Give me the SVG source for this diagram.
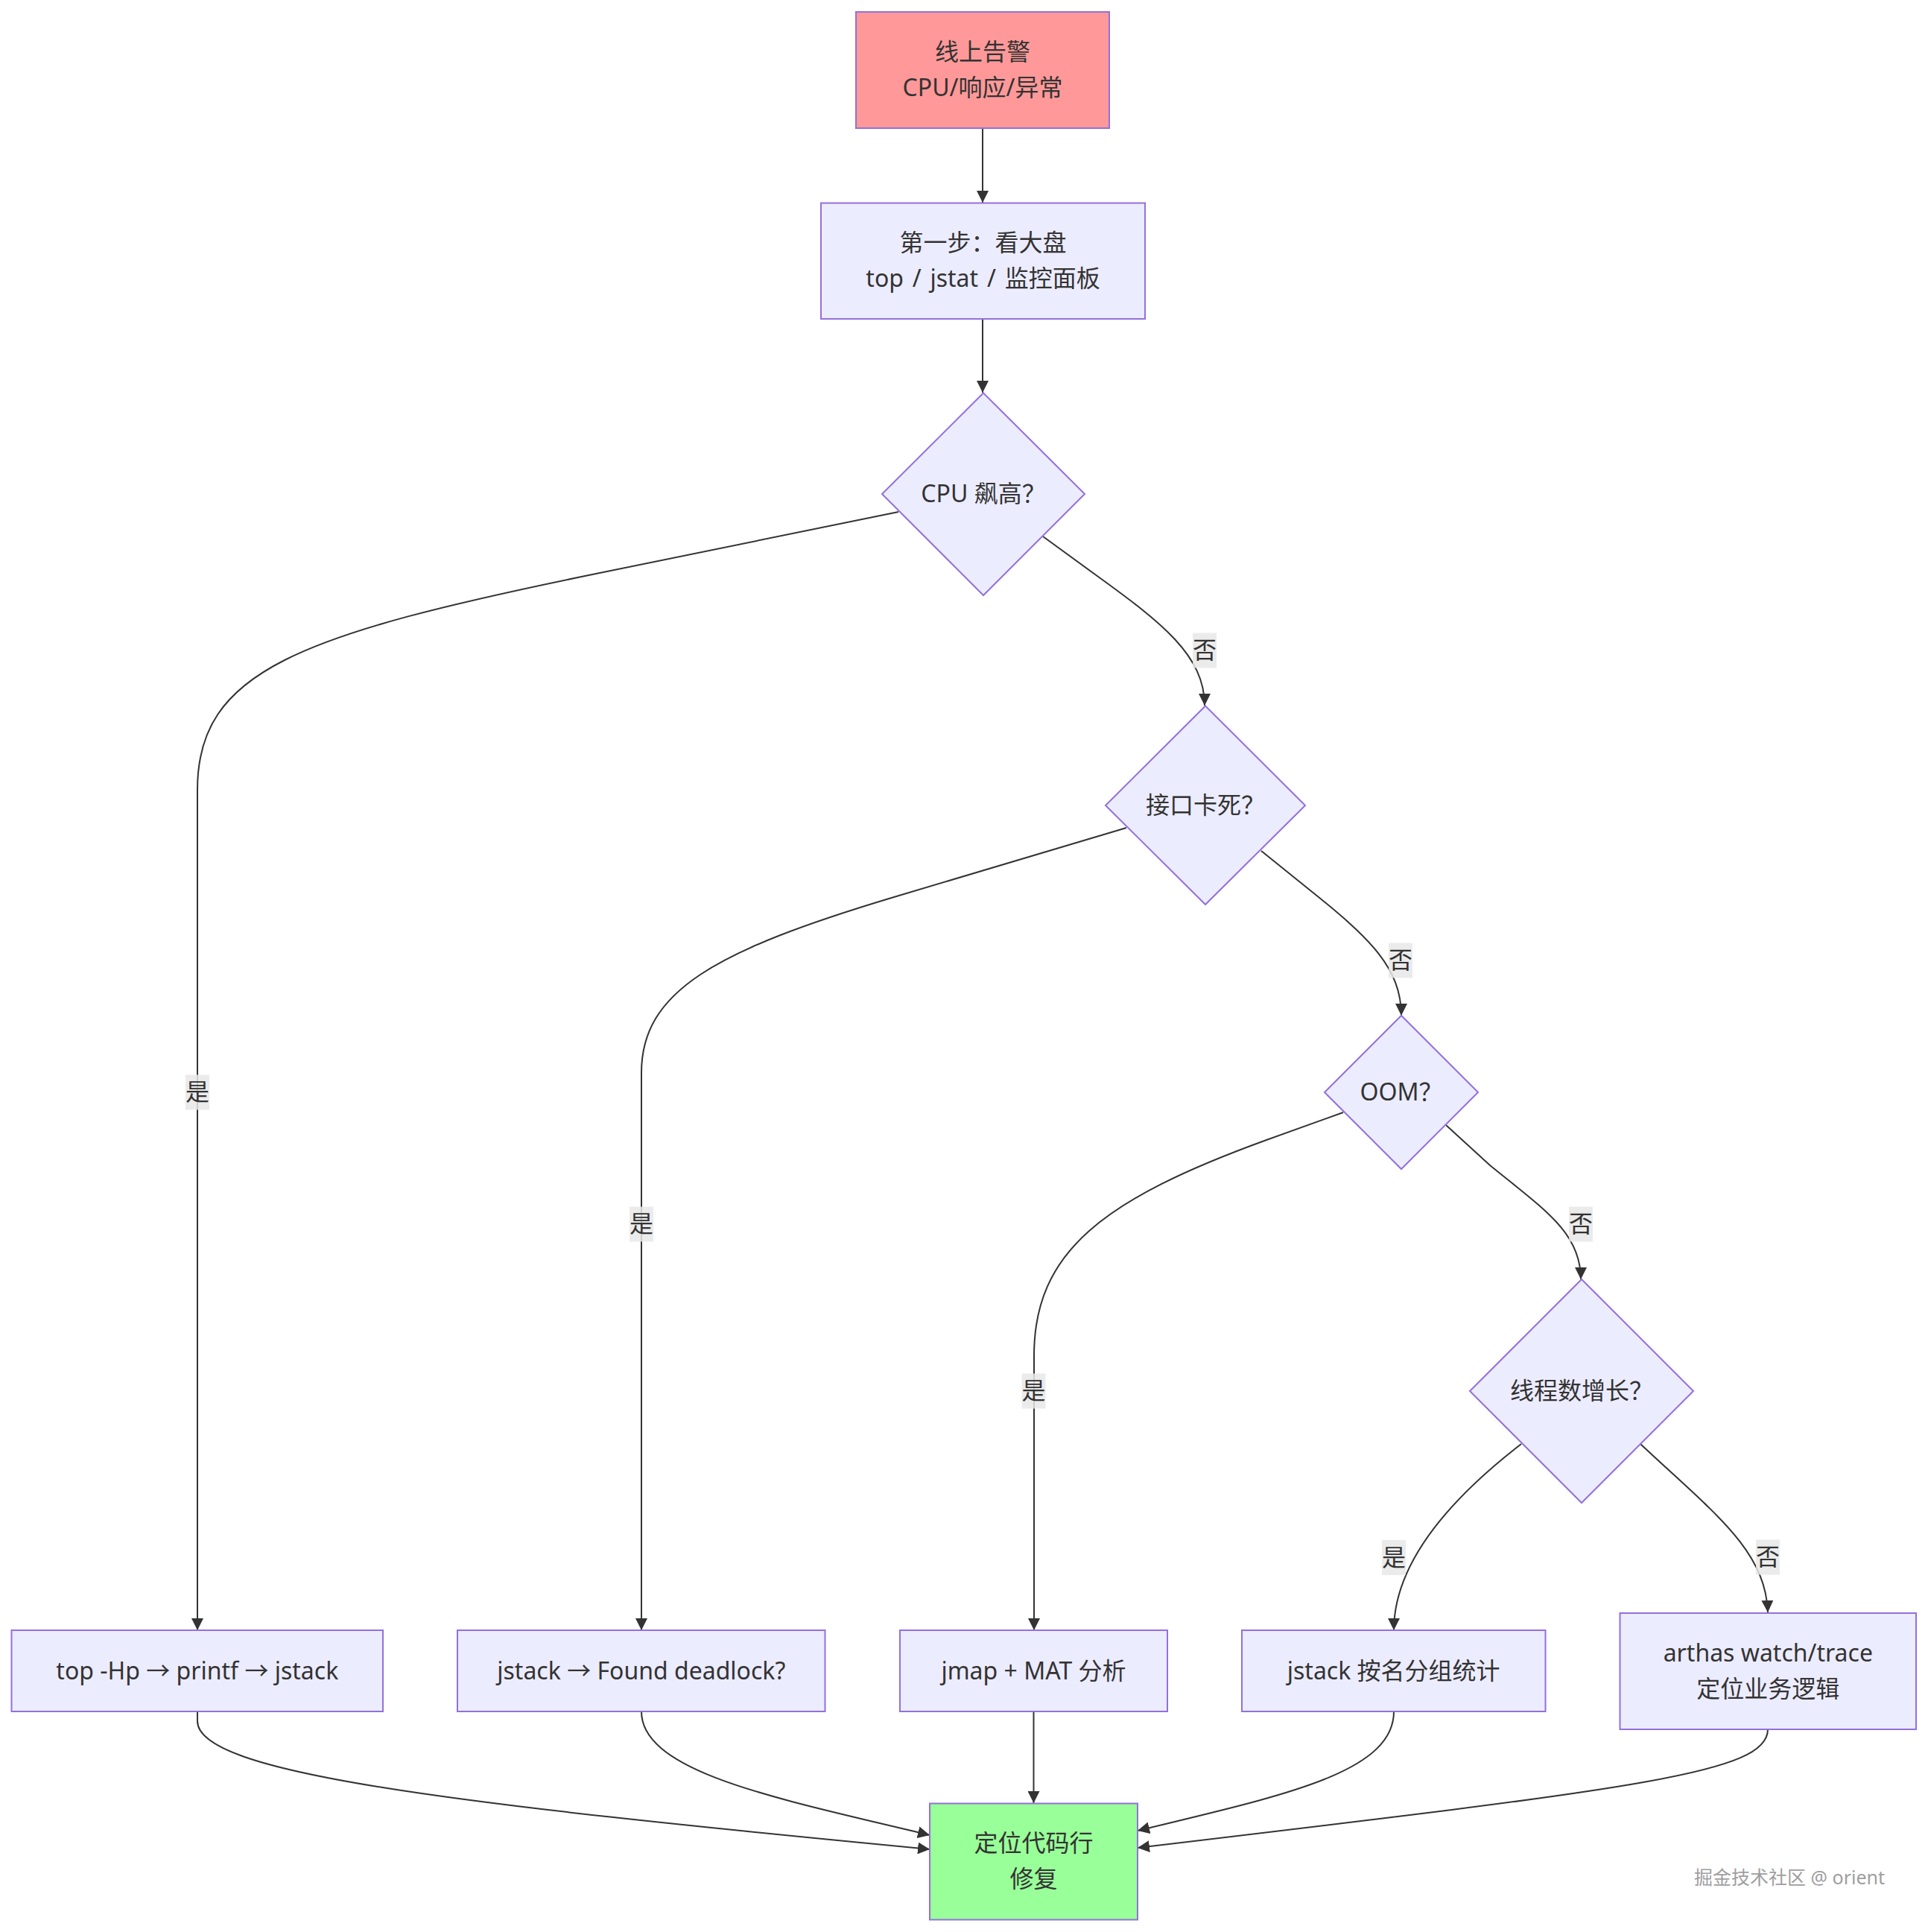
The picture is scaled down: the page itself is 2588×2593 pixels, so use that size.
<svg xmlns="http://www.w3.org/2000/svg" width="2588" height="2593" viewBox="0 0 2588 2593">
<style>
  .node { fill: #ECECFF; stroke: #9370DB; stroke-width: 2; }
  .start { fill: #FF9999; stroke: #9370DB; stroke-width: 2; }
  .end { fill: #99FF99; stroke: #9370DB; stroke-width: 2; }
  .lbl { font-family: "Noto Sans", "Noto Sans CJK SC", sans-serif; font-size: 32px; fill: #333333; text-anchor: middle; }
  .edge { fill: none; stroke: #333333; stroke-width: 2; }
  .elbg { fill: #E8E8E8; opacity: 0.85; }
  .wm { font-family: "Noto Sans", "Noto Sans CJK SC", sans-serif; font-size: 25px; fill: #9E9E9E; text-anchor: end; }
</style>
<defs>
  <marker id="arrow" markerUnits="userSpaceOnUse" markerWidth="16" markerHeight="16" viewBox="0 0 10 10" refX="10" refY="5" orient="auto">
    <path d="M0,0 L10,5 L0,10 z" fill="#333333"/>
  </marker>
</defs>
<rect width="2588" height="2593" fill="#FFFFFF"/>

<g id="connectors">
  <path class="edge" marker-end="url(#arrow)" d="M1319,172 L1319,272"/>
  <path class="edge" marker-end="url(#arrow)" d="M1319,428 L1319,527"/>
  <path class="edge" marker-end="url(#arrow)" d="M1206,687 L800,770 C400,852 265,900 265,1060 L265,2188"/>
  <path class="edge" marker-end="url(#arrow)" d="M1400,720 L1470,771 C1560,836 1617,880 1617,947"/>
  <path class="edge" marker-end="url(#arrow)" d="M1512,1111 L1200,1204 C960,1276 861,1330 861,1440 L861,2188"/>
  <path class="edge" marker-end="url(#arrow)" d="M1693,1142 L1760,1196 C1840,1260 1881,1300 1881,1363"/>
  <path class="edge" marker-end="url(#arrow)" d="M1803,1493 L1700,1530 C1480,1610 1388,1680 1388,1820 L1388,2188"/>
  <path class="edge" marker-end="url(#arrow)" d="M1941,1510 L2000,1564 C2075,1625 2122,1655 2122,1717"/>
  <path class="edge" marker-end="url(#arrow)" d="M2042,1938 Q1871,2070 1871,2188"/>
  <path class="edge" marker-end="url(#arrow)" d="M2202,1938 C2300,2030 2370,2080 2373,2164"/>
  <path class="edge" marker-end="url(#arrow)" d="M265,2297 L265,2310 C265,2380 600,2420 1248,2482"/>
  <path class="edge" marker-end="url(#arrow)" d="M861,2297 C861,2380 1050,2415 1248,2463"/>
  <path class="edge" marker-end="url(#arrow)" d="M1387.5,2297 L1387.5,2420"/>
  <path class="edge" marker-end="url(#arrow)" d="M1871,2297 C1871,2380 1720,2410 1527,2457"/>
  <path class="edge" marker-end="url(#arrow)" d="M2373,2321 C2373,2380 2200,2400 1527,2480"/>
</g>

<g id="edge-labels">
  <g><rect class="elbg" x="249" y="1442.5" width="32" height="47"/><text class="lbl" x="265" y="1477">是</text></g>
  <g><rect class="elbg" x="845" y="1619.5" width="32" height="47"/><text class="lbl" x="861" y="1654">是</text></g>
  <g><rect class="elbg" x="1601" y="849.5" width="32" height="47"/><text class="lbl" x="1617" y="884">否</text></g>
  <g><rect class="elbg" x="1864" y="1265.5" width="32" height="47"/><text class="lbl" x="1880" y="1300">否</text></g>
  <g><rect class="elbg" x="1371.5" y="1843.5" width="32" height="47"/><text class="lbl" x="1387.5" y="1878">是</text></g>
  <g><rect class="elbg" x="2106" y="1619.5" width="32" height="47"/><text class="lbl" x="2122" y="1654">否</text></g>
  <g><rect class="elbg" x="1855" y="2067" width="32" height="47"/><text class="lbl" x="1871" y="2101.5">是</text></g>
  <g><rect class="elbg" x="2357" y="2066.5" width="32" height="47"/><text class="lbl" x="2373" y="2101">否</text></g>
</g>

<g id="alert">
  <rect class="start" x="1149" y="16" width="340" height="156"/>
  <text class="lbl" x="1319" y="81">线上告警</text>
  <text class="lbl" x="1319" y="129">CPU/响应/异常</text>
</g>
<g id="overview">
  <rect class="node" x="1102" y="272.5" width="435" height="155.5"/>
  <text class="lbl" x="1319.5" y="337">第一步：看大盘</text>
  <text class="lbl" x="1319.5" y="385" word-spacing="3.5">top / jstat / 监控面板</text>
</g>
<g id="cpu-high">
  <polygon class="node" points="1320,527.5 1456,663 1320,799 1184,663"/>
  <text class="lbl" x="1320" y="674">CPU 飙高？</text>
</g>
<g id="api-stuck">
  <polygon class="node" points="1618,947.5 1752,1081 1618,1214 1484,1081"/>
  <text class="lbl" x="1618" y="1092">接口卡死？</text>
</g>
<g id="oom">
  <polygon class="node" points="1881,1363 1984,1466 1881,1569 1778,1466"/>
  <text class="lbl" x="1881" y="1477">OOM？</text>
</g>
<g id="thread-growth">
  <polygon class="node" points="2123,1717 2273,1867 2123,2017 1973,1867"/>
  <text class="lbl" x="2123" y="1878">线程数增长？</text>
</g>
<g id="top-hp">
  <rect class="node" x="15.5" y="2188" width="498.5" height="109"/>
  <text class="lbl" x="264.8" y="2253.5">top -Hp → printf → jstack</text>
</g>
<g id="deadlock">
  <rect class="node" x="614" y="2188" width="493.5" height="109"/>
  <text class="lbl" x="860.8" y="2253.5">jstack → Found deadlock?</text>
</g>
<g id="jmap">
  <rect class="node" x="1208" y="2188" width="359" height="109"/>
  <text class="lbl" x="1387.5" y="2253.5">jmap + MAT 分析</text>
</g>
<g id="jstack-group">
  <rect class="node" x="1667" y="2188" width="407.5" height="109"/>
  <text class="lbl" x="1870.7" y="2253.5">jstack 按名分组统计</text>
</g>
<g id="arthas">
  <rect class="node" x="2174.5" y="2165" width="397.5" height="156"/>
  <text class="lbl" x="2373.3" y="2230">arthas watch/trace</text>
  <text class="lbl" x="2373.3" y="2278">定位业务逻辑</text>
</g>
<g id="fix">
  <rect class="end" x="1248" y="2420.5" width="279" height="156"/>
  <text class="lbl" x="1387.5" y="2485">定位代码行</text>
  <text class="lbl" x="1387.5" y="2533">修复</text>
</g>

<text class="wm" x="2530" y="2529">掘金技术社区 @ orient</text>
</svg>
